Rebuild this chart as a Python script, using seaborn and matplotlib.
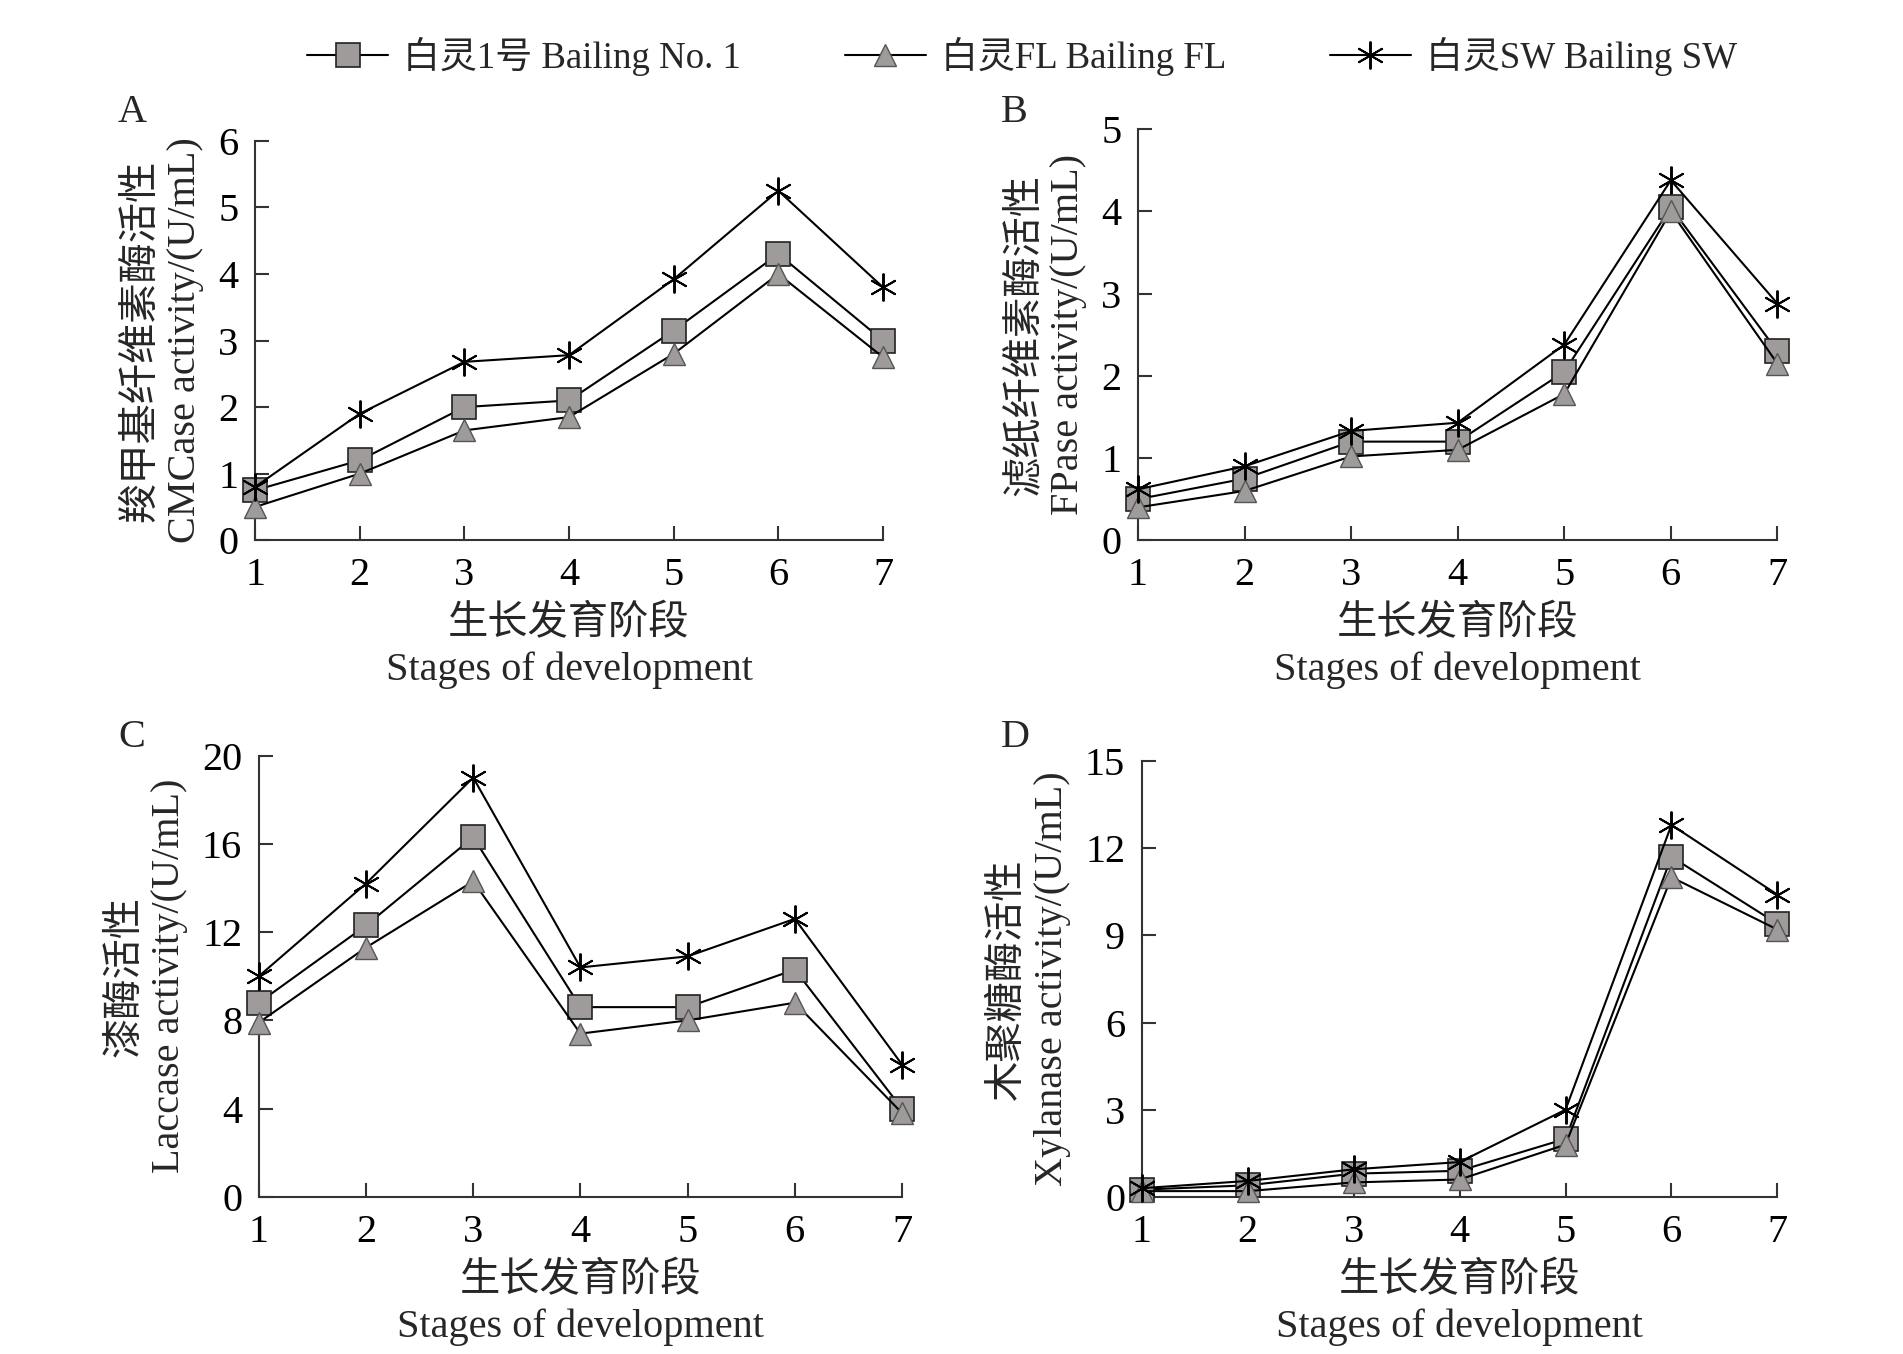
import pandas as pd
import matplotlib
matplotlib.use('Agg')
import matplotlib.pyplot as plt
import seaborn as sns

stages = [1, 2, 3, 4, 5, 6, 7]
varieties = ['白灵1号 Bailing No. 1', '白灵FL Bailing FL', '白灵SW Bailing SW']

# A: CMCase
cmc_no1 = [0.75, 1.2, 2.0, 2.1, 3.15, 4.3, 3.0]
cmc_fl = [0.5, 1.0, 1.65, 1.85, 2.8, 4.0, 2.75]
cmc_sw = [0.8, 1.9, 2.68, 2.78, 3.92, 5.25, 3.8]

# B: FPase
fp_no1 = [0.5, 0.75, 1.2, 1.2, 2.05, 4.05, 2.3]
fp_fl = [0.4, 0.6, 1.02, 1.1, 1.78, 4.0, 2.15]
fp_sw = [0.62, 0.9, 1.33, 1.43, 2.38, 4.38, 2.88]

# C: Laccase
lac_no1 = [8.8, 12.3, 16.3, 8.6, 8.6, 10.3, 4.0]
lac_fl = [7.9, 11.3, 14.3, 7.4, 8.0, 8.8, 3.8]
lac_sw = [10.0, 14.2, 19.0, 10.4, 10.9, 12.6, 6.0]

# D: Xylanase
xyl_no1 = [0.25, 0.4, 0.8, 0.9, 2.0, 11.7, 9.4]
xyl_fl = [0.2, 0.2, 0.5, 0.6, 1.8, 11.0, 9.2]
xyl_sw = [0.3, 0.55, 0.95, 1.2, 3.0, 12.8, 10.4]

sns.set_style('ticks')
plt.rcParams['font.family'] = ['Liberation Serif', 'Noto Sans CJK SC', 'DejaVu Sans']
plt.rcParams['axes.unicode_minus'] = False

gray = '#a09b9b'
styles = [
    dict(marker='s', markersize=17, markerfacecolor=gray, markeredgecolor='#222222', markeredgewidth=1.2),
    dict(marker='^', markersize=16, markerfacecolor=gray, markeredgecolor='#555555', markeredgewidth=1.0),
    dict(marker=(6, 2, 0), markersize=20, markerfacecolor='black', markeredgecolor='black', markeredgewidth=1.4),
]

panels = [
    ('A', [cmc_no1, cmc_fl, cmc_sw], '羧甲基纤维素酶活性\nCMCase activity/(U/mL)', [0, 1, 2, 3, 4, 5, 6],
     [0.134, 0.601, 0.330, 0.295], (0.062, 0.917)),
    ('B', [fp_no1, fp_fl, fp_sw], '滤纸纤维素酶活性\nFPase activity/(U/mL)', [0, 1, 2, 3, 4, 5],
     [0.598, 0.601, 0.336, 0.3035], (0.526, 0.917)),
    ('C', [lac_no1, lac_fl, lac_sw], '漆酶活性\nLaccase activity/(U/mL)', [0, 4, 8, 12, 16, 20],
     [0.136, 0.116, 0.338, 0.326], (0.062, 0.455)),
    ('D', [xyl_no1, xyl_fl, xyl_sw], '木聚糖酶活性\nXylanase activity/(U/mL)', [0, 3, 6, 9, 12, 15],
     [0.600, 0.116, 0.334, 0.322], (0.526, 0.455)),
]

fig = plt.figure(figsize=(19.03, 13.54), dpi=100)
fs = 29

handles = []
for letter, series, ylab, yticks, rect, lpos in panels:
    ax = fig.add_axes(rect)
    for vals, name, st in zip(series, varieties, styles):
        df = pd.DataFrame({'stage': stages, 'value': vals})
        sns.lineplot(data=df, x='stage', y='value', ax=ax, color='black', linewidth=1.5,
                     clip_on=False, zorder=3, **st)
        if letter == 'A':
            handles.append(ax.lines[-1])
    ax.set_xlim(1, 7)
    ax.set_ylim(yticks[0], yticks[-1])
    ax.set_xticks(stages)
    ax.set_yticks(yticks)
    ax.tick_params(direction='in', length=10, width=1.5, colors='#333333', labelsize=fs,
                   labelcolor='black', pad=12)
    for s in ['top', 'right']:
        ax.spines[s].set_visible(False)
    for s in ['left', 'bottom']:
        ax.spines[s].set_linewidth(1.5)
        ax.spines[s].set_color('#333333')
    ax.set_xlabel('生长发育阶段\nStages of development', fontsize=fs, labelpad=8, linespacing=1.3)
    ax.set_ylabel(ylab, fontsize=fs, labelpad=10, linespacing=1.25)
    fig.text(lpos[0], lpos[1], letter, fontsize=fs, va='center', ha='left')

fig.legend(handles, varieties, loc='center', bbox_to_anchor=(0.537, 0.958), ncol=3,
           frameon=False, fontsize=26.6, handlelength=2.2, columnspacing=2.8, handletextpad=0.4)

plt.savefig('out.png', dpi=100)
